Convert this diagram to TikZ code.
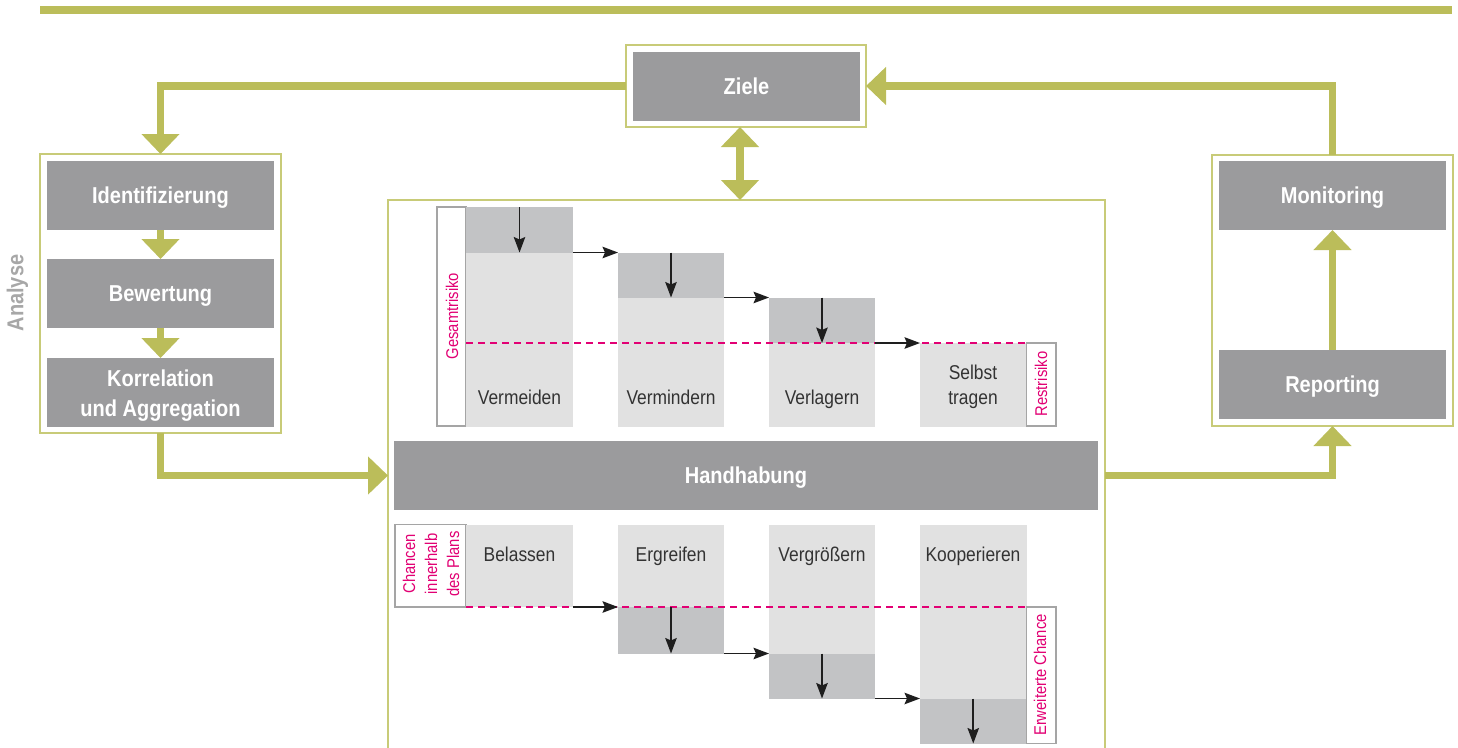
\documentclass[tikz,border=0pt]{standalone}
\usepackage{fontspec}
\setmainfont[FakeStretch=0.87]{Liberation Sans}
\usetikzlibrary{arrows.meta}
\definecolor{tolive}{RGB}{187,189,90}
\definecolor{tborder}{RGB}{200,203,120}
\definecolor{gbox}{RGB}{155,155,157}
\definecolor{glight}{RGB}{225,225,225}
\definecolor{gmid}{RGB}{194,195,197}
\definecolor{gline}{RGB}{165,165,165}
\definecolor{gtext}{RGB}{51,51,51}
\definecolor{garrow}{RGB}{30,30,30}
\definecolor{tmag}{RGB}{226,0,116}
\definecolor{ganal}{RGB}{167,167,167}
\begin{document}
\begin{tikzpicture}[x=1pt,y=-1pt,
  box/.style={inner sep=0pt,outer sep=0pt,anchor=north west},
  frame/.style={box,draw=tborder,line width=1.6pt,fill=white},
  stepbox/.style={box,fill=gbox,text=white,font=\bfseries\fontsize{23}{30}\selectfont,align=center},
  whitetxt/.style={inner sep=0pt,text=white,font=\bfseries\fontsize{23}{30}\selectfont,align=center},
  onel/.style={text height=16.5pt,text depth=0pt},
  lightc/.style={box,fill=glight},
  darkc/.style={box,fill=gmid},
  tagbox/.style={box,draw=gline,line width=1.2pt,fill=white},
  lbl/.style={inner sep=0pt,anchor=base,text=gtext,font=\fontsize{20}{25}\selectfont},
  mtxt/.style={inner sep=0pt,rotate=90,text=tmag,align=center,font=\fontsize{17}{22}\selectfont},
  flow/.style={draw=tolive,line width=7.5pt,-{Triangle[length=20pt,width=37pt]}},
  flowboth/.style={draw=tolive,line width=7.5pt,{Triangle[length=20pt,width=37pt]}-{Triangle[length=20pt,width=37pt]}},
  blk/.style={draw=garrow,line width=1.6pt,-{Stealth[length=15.5pt,width=11.5pt,inset=2.5pt]}},
  mdash/.style={draw=tmag,line width=1.3pt,dash pattern=on 7pt off 5pt}
]
\clip (0,0) rectangle (1458,747);

% top rule
\draw[tolive,line width=7.5pt] (40,10) -- (1452,10);

% Ziele
\node[frame,minimum width=240pt,minimum height=82pt] (zo) at (626,45) {};
\node[stepbox,onel,minimum width=227pt,minimum height=69pt] (zi) at (633,52) {Ziele};

% left analysis group
\node[frame,minimum width=241pt,minimum height=279pt] (lo) at (40,154) {};
\node[stepbox,onel,minimum width=227pt,minimum height=69pt] (ident) at (47,161) {Identifizierung};
\node[stepbox,onel,minimum width=227pt,minimum height=69pt] (bew) at (47,259) {Bewertung};
\node[stepbox,minimum width=227pt,minimum height=69pt] (korr) at (47,358) {};
\node[whitetxt] (korrt) at ([yshift=-3pt]korr.center) {Korrelation\\und Aggregation};
\node[inner sep=0pt,rotate=90,text=ganal,font=\bfseries\fontsize{23}{28}\selectfont] (anal) at (17.5,293) {Analyse};

% right group
\node[frame,minimum width=241pt,minimum height=271pt] (ro) at (1212,155) {};
\node[stepbox,onel,minimum width=227pt,minimum height=69pt] (mon) at (1219,161) {Monitoring};
\node[stepbox,onel,minimum width=227pt,minimum height=69pt] (rep) at (1219,350) {Reporting};

% centre group
\node[frame,minimum width=717pt,minimum height=600pt] (cb) at (388,200) {};
\node[stepbox,onel,minimum width=704pt,minimum height=69pt] (hand) at (394,441) {Handhabung};

% upper staircase (risks)
\node[tagbox,minimum width=29pt,minimum height=219pt] (tagG) at (437,207) {};
\node[darkc,minimum width=107pt,minimum height=45.5pt] (v1d) at (466,207) {};
\node[lightc,minimum width=107pt,minimum height=174pt] (v1l) at (466,252.5) {};
\node[darkc,minimum width=106pt,minimum height=45pt] (v2d) at (618,252.5) {};
\node[lightc,minimum width=106pt,minimum height=129pt] (v2l) at (618,297.5) {};
\node[darkc,minimum width=106pt,minimum height=45.5pt] (v3d) at (769,297.5) {};
\node[lightc,minimum width=106pt,minimum height=83.5pt] (v3l) at (769,343) {};
\node[lightc,minimum width=106.5pt,minimum height=83.5pt] (v4l) at (920,343) {};
\node[tagbox,minimum width=29.5pt,minimum height=83pt] (tagR) at (1026.5,343) {};

\draw[mdash] (v1l.west |- v4l.north) -- (tagR.north west);

\draw[blk] (v1d.north) -- (v1d.south);
\draw[blk] (v2d.north) -- (v2d.south);
\draw[blk] (v3d.north) -- (v3d.south);
\draw[blk] (v1d.south east) -- (v1d.south east -| v2d.west);
\draw[blk] (v2d.south east) -- (v2d.south east -| v3d.west);
\draw[blk] (v3d.south east) -- (v4l.north west);

\node[lbl] (t1) at (519.5,404) {Vermeiden};
\node[lbl] (t2) at (671,404) {Vermindern};
\node[lbl] (t3) at (822,404) {Verlagern};
\node[lbl] (t4a) at (973,379) {Selbst};
\node[lbl] (t4b) at (973,404) {tragen};
\node[mtxt] (mG) at (452,316) {Gesamtrisiko};
\node[mtxt] (mR) at (1041,384) {Restrisiko};

% lower staircase (chances)
\node[tagbox,minimum width=71pt,minimum height=82.5pt] (tagC) at (395,524.5) {};
\node[lightc,minimum width=107pt,minimum height=82.5pt] (b1) at (466,524.5) {};
\node[lightc,minimum width=106pt,minimum height=82.5pt] (e1l) at (618,524.5) {};
\node[darkc,minimum width=106pt,minimum height=46.5pt] (e1d) at (618,607) {};
\node[lightc,minimum width=106pt,minimum height=129pt] (g1l) at (769,524.5) {};
\node[darkc,minimum width=106pt,minimum height=45pt] (g1d) at (769,653.5) {};
\node[lightc,minimum width=106.5pt,minimum height=174pt] (k1l) at (920,524.5) {};
\node[darkc,minimum width=106.5pt,minimum height=45pt] (k1d) at (920,698.5) {};
\node[tagbox,minimum width=29.5pt,minimum height=136.5pt] (tagE) at (1026.5,607) {};

\draw[mdash] (b1.south west) -- (tagE.north west);

\draw[blk] (b1.south east) -- (e1d.north west);
\draw[blk] (e1d.north) -- (e1d.south);
\draw[blk] (e1d.south east) -- (e1d.south east -| g1d.west);
\draw[blk] (g1d.north) -- (g1d.south);
\draw[blk] (g1d.south east) -- (k1d.north west);
\draw[blk] (k1d.north) -- (k1d.south);

\node[lbl] (u1) at (519.5,561) {Belassen};
\node[lbl] (u2) at (671,561) {Ergreifen};
\node[lbl] (u3) at (822,561) {Vergrößern};
\node[lbl] (u4) at (973,561) {Kooperieren};
\node[mtxt] (mC) at (431,564) {Chancen\\innerhalb\\des Plans};
\node[mtxt] (mE) at (1040,675) {Erweiterte Chance};

% olive flow connectors
\draw[flow] (zo.west) -| (lo.north);
\draw[flow] (ident.south) -- (bew.north);
\draw[flow] (bew.south) -- (korr.north);
\draw[flow] (lo.south) |- (hand.west -| cb.west);
\draw[flow] (hand.east -| cb.east) -| (ro.south);
\draw[flow] (rep.north) -- (mon.south);
\draw[flow] (ro.north) |- (zo.east);
\draw[flowboth] ([xshift=-6pt]zo.south) -- ([xshift=-6pt]zo.south |- cb.north);
\end{tikzpicture}
\end{document}
